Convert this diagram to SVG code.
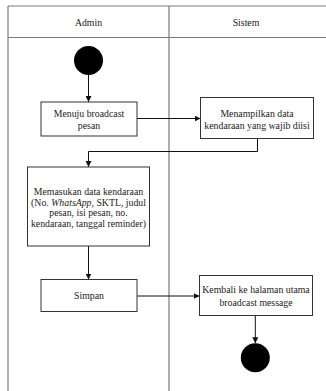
<svg xmlns="http://www.w3.org/2000/svg" width="326" height="391" viewBox="0 0 326 391" font-family="'Liberation Serif', 'Times New Roman', 'DejaVu Serif', serif">
<style>
.lane{stroke:#7a7a7a;stroke-width:1.2;fill:none}
.box{fill:#fff;stroke:#333;stroke-width:1}
.dot{fill:#000}
text{font-family:'Liberation Serif','Times New Roman','DejaVu Serif',serif;font-size:9.8px;fill:#222;text-anchor:middle}
.edge{stroke:#111;stroke-width:1;fill:none;marker-end:url(#arr)}
</style>
<defs>
<marker id="arr" viewBox="0 0 10 10" refX="10" refY="5" markerWidth="6" markerHeight="6" markerUnits="userSpaceOnUse" orient="auto">
<path d="M0,0 L10,5 L0,10 z" fill="#111"/>
</marker>
</defs>
<rect width="326" height="391" fill="#fff"/>
<g id="swimlanes">
<line class="lane" x1="8" y1="6" x2="326" y2="6"/>
<line class="lane" x1="8" y1="37.5" x2="326" y2="37.5"/>
<line class="lane" x1="8" y1="6" x2="8" y2="391"/>
<line class="lane" x1="169" y1="6" x2="169" y2="391"/>
<text x="88.5" y="26">Admin</text>
<text x="246" y="26">Sistem</text>
</g>
<g id="connectors">
<path class="edge" d="M88.5,75 V102"/>
<path class="edge" d="M137,118.5 H200.5"/>
<path class="edge" d="M257.5,138.5 V151.5 H88.5 V167"/>
<path class="edge" d="M88.5,246 V279.5"/>
<path class="edge" d="M137,296 H199.5"/>
<path class="edge" d="M255.3,315.5 V343.3"/>
</g>
<g id="start"><circle class="dot" cx="88.5" cy="60.5" r="14.5"/></g>
<g id="menuju">
<rect class="box" x="41" y="102" width="96" height="34"/>
<text x="89" y="116.8">Menuju broadcast</text>
<text x="89" y="129.3">pesan</text>
</g>
<g id="menampilkan">
<rect class="box" x="200.5" y="97.5" width="113" height="41"/>
<text x="257" y="117">Menampilkan data</text>
<text x="257" y="129.3">kendaraan yang wajib diisi</text>
</g>
<g id="memasukan">
<rect class="box" x="27.5" y="167" width="122" height="79"/>
<text x="88.5" y="195">Memasukan data kendaraan</text>
<text x="88.5" y="205.6">(No. <tspan font-style="italic">WhatsApp</tspan>, SKTL, judul</text>
<text x="88.5" y="216">pesan, isi pesan, no.</text>
<text x="88.5" y="226.6">kendaraan, tanggal reminder)</text>
</g>
<g id="simpan">
<rect class="box" x="41" y="279.5" width="96" height="32"/>
<text x="89" y="299.3">Simpan</text>
</g>
<g id="kembali">
<rect class="box" x="199.5" y="275.5" width="113" height="40"/>
<text x="256" y="293.3">Kembali ke halaman utama</text>
<text x="256" y="306">broadcast message</text>
</g>
<g id="end"><circle class="dot" cx="255.3" cy="357.8" r="14.5"/></g>
</svg>
